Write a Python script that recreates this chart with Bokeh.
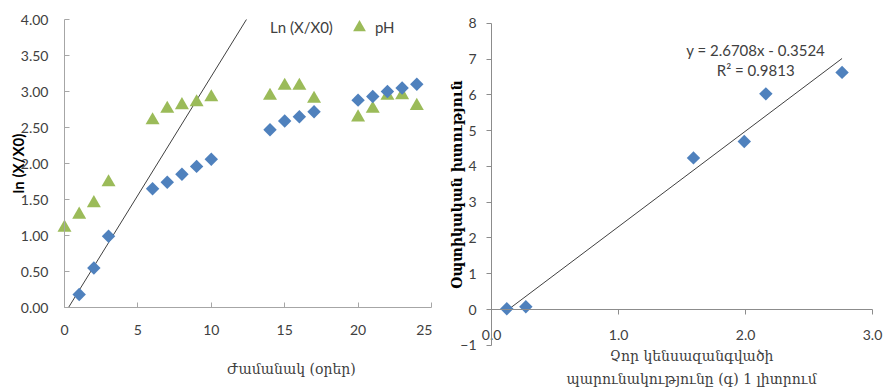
from bokeh.plotting import figure
from bokeh.layouts import row
from bokeh.models import (SingleIntervalTicker, NumeralTickFormatter, Legend, LegendItem,
                          Label, Range1d)
from bokeh.embed import file_html
from bokeh.resources import INLINE
import math

# ---- data: left panel ----
ln_days = [1, 2, 3, 6, 7, 8, 9, 10, 14, 15, 16, 17, 20, 21, 22, 23, 24]
ln_vals = [0.18, 0.55, 0.99, 1.65, 1.74, 1.85, 1.96, 2.06, 2.47, 2.59, 2.65, 2.72,
           2.88, 2.93, 3.00, 3.05, 3.10]
ph_days = [0, 1, 2, 3, 6, 7, 8, 9, 10, 14, 15, 16, 17, 20, 21, 22, 23, 24]
ph_vals = [1.11, 1.29, 1.45, 1.74, 2.60, 2.76, 2.81, 2.85, 2.92, 2.94, 3.08, 3.08,
           2.90, 2.64, 2.76, 2.94, 2.95, 2.80]
ln_fit_slope = 0.33
ln_fit_intercept = -0.09
left_x_bounds = (0, 25)
left_y_bounds = (0, 4)

# ---- data: right panel ----
biomass = [0.12, 0.27, 1.59, 1.99, 2.16, 2.76]
optical_density = [0.02, 0.08, 4.24, 4.70, 6.03, 6.63]
od_fit_slope = 2.6708
od_fit_intercept = -0.3524
od_fit_r2 = 0.9813
right_x_bounds = (0, 3)
right_y_bounds = (-1, 8)

BLUE = "#4F81BD"
GREEN = "#9BBB59"
TXT = "#404040"
FONT = "Lato"
ARM = "DejaVu Serif"


def style_axis(ax, line_color, tick_in, tick_out, standoff):
    ax.axis_line_color = line_color
    ax.major_tick_line_color = line_color
    ax.major_tick_in = tick_in
    ax.major_tick_out = tick_out
    ax.minor_tick_line_color = None
    ax.major_label_text_font = FONT
    ax.major_label_text_font_size = "14px"
    ax.major_label_text_color = TXT
    ax.major_label_standoff = standoff


def text_label(x, y, text, font, size, y_offset=0, bold=False, color=TXT):
    return Label(x=x, y=y, y_offset=y_offset, text=text, text_align="center",
                 text_baseline="middle", text_font=font, text_font_size=size,
                 text_font_style="bold" if bold else "normal", text_color=color)


# ================= LEFT =================
# frame covers the whole canvas; axes are pinned at 0 and bounded
p1 = figure(frame_width=432, frame_height=387,
            x_range=Range1d(-4.36, 25.07), y_range=Range1d(-1.111, 4.264),
            output_backend="svg", toolbar_location=None,
            min_border_left=0, min_border_right=0, min_border_top=0, min_border_bottom=0)
p1.grid.visible = False
p1.outline_line_color = None

xa = p1.xaxis[0]
style_axis(xa, "#a6a6a6", 5, 0, 13)
xa.ticker = SingleIntervalTicker(interval=5)
xa.fixed_location = 0
xa.bounds = left_x_bounds

ya = p1.yaxis[0]
style_axis(ya, "#a6a6a6", 5, 0, 12)
ya.ticker = SingleIntervalTicker(interval=0.5)
ya.formatter = NumeralTickFormatter(format="0.00")
ya.fixed_location = 0
ya.bounds = left_y_bounds
ya.axis_label = "ln (X/X0)"
ya.axis_label_text_font = FONT
ya.axis_label_text_font_style = "bold"
ya.axis_label_text_font_size = "15px"
ya.axis_label_text_color = "black"
ya.axis_label_standoff = -9

# trend line (from fit parameters), drawn from y=0 up to the top of the axis
x0 = (left_y_bounds[0] - ln_fit_intercept) / ln_fit_slope
x1 = (left_y_bounds[1] - ln_fit_intercept) / ln_fit_slope
p1.line([x0, x1], [ln_fit_slope * x0 + ln_fit_intercept, ln_fit_slope * x1 + ln_fit_intercept],
        line_color="#404040", line_width=1)

r_ph = p1.scatter(ph_days, ph_vals, marker="triangle", size=14, fill_color=GREEN, line_color=None)
r_ln = p1.scatter(ln_days, ln_vals, marker="square", size=9.5, angle=math.pi / 4,
                  fill_color=BLUE, line_color=None)
r_dummy = p1.scatter([], [], marker="square", size=9, fill_alpha=0, line_alpha=0)

legend = Legend(items=[LegendItem(label="Ln (X/X0)", renderers=[r_dummy]),
                       LegendItem(label="pH", renderers=[r_ph])],
                orientation="horizontal", location=(238, 344),
                border_line_color=None, background_fill_alpha=0,
                label_text_font=FONT, label_text_font_size="15px", label_text_color=TXT,
                glyph_width=32, glyph_height=32, spacing=10, label_standoff=-8, padding=0,
                margin=0)
p1.add_layout(legend, "center")

p1.add_layout(text_label(15.46, 0, "Ժամանակ (օրեր)", ARM, "14px", y_offset=-61))

# ================= RIGHT =================
p2 = figure(frame_width=454, frame_height=387,
            x_range=Range1d(-0.465, 3.11), y_range=Range1d(-2.18, 8.64),
            output_backend="svg", toolbar_location=None,
            min_border_left=0, min_border_right=0, min_border_top=0, min_border_bottom=0)
p2.grid.visible = False
p2.outline_line_color = None

xb = p2.xaxis[0]
style_axis(xb, "#8c8c8c", 0, 5, 15)
xb.ticker = SingleIntervalTicker(interval=1)
xb.formatter = NumeralTickFormatter(format="0.0")
xb.fixed_location = 0
xb.bounds = right_x_bounds

yb = p2.yaxis[0]
style_axis(yb, "#8c8c8c", 0, 5, 10)
yb.ticker = SingleIntervalTicker(interval=1)
yb.fixed_location = 0
yb.bounds = right_y_bounds
yb.axis_label = "Օպտիկական խտություն"
yb.axis_label_text_font = ARM
yb.axis_label_text_font_style = "bold"
yb.axis_label_text_font_size = "14px"
yb.axis_label_text_color = "black"
yb.axis_label_standoff = -8

bx0, bx1 = min(biomass), max(biomass)
p2.line([bx0, bx1], [od_fit_slope * bx0 + od_fit_intercept, od_fit_slope * bx1 + od_fit_intercept],
        line_color="#404040", line_width=1)
p2.scatter(biomass, optical_density, marker="square", size=9.5, angle=math.pi / 4,
           fill_color=BLUE, line_color=None)

p2.add_layout(text_label(2.08, 7.25, f"y = {od_fit_slope:.4f}x - {abs(od_fit_intercept):.4f}",
                         FONT, "15px"))
p2.add_layout(text_label(2.08, 6.69, f"R² = {od_fit_r2:.4f}", FONT, "15px"))

p2.add_layout(text_label(1.575, 0, "Չոր կենսազանգվածի", ARM, "14px", y_offset=-46))
p2.add_layout(text_label(1.575, 0, "պարունակությունը (գ) 1 լիտրում", ARM, "14px", y_offset=-69))

layout = row(p1, p2, spacing=0)
open("out.html", "w").write(file_html(layout, INLINE))
